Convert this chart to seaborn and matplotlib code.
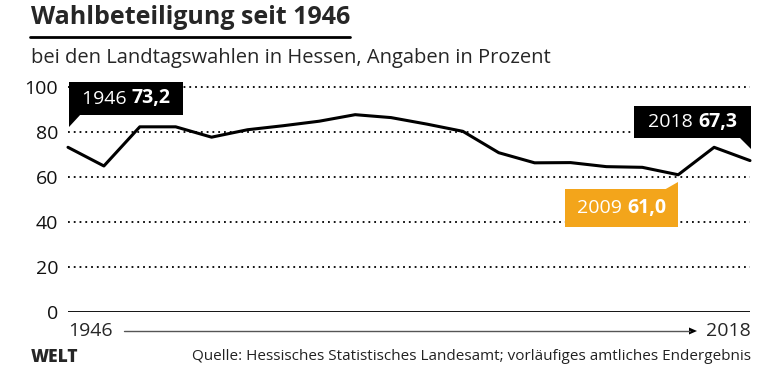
import matplotlib
matplotlib.use("Agg")
import matplotlib.pyplot as plt
import seaborn as sns
import pandas as pd
from matplotlib.patches import Polygon
from matplotlib.offsetbox import TextArea, HPacker, AnnotationBbox

# Wahlbeteiligung bei den Landtagswahlen in Hessen
years = [1946, 1950, 1954, 1958, 1962, 1966, 1970, 1974, 1978, 1982,
         1983, 1987, 1991, 1995, 1999, 2003, 2008, 2009, 2013, 2018]
turnout = [73.2, 64.9, 82.3, 82.3, 77.7, 81.0, 82.8, 84.8, 87.7, 86.4,
           83.5, 80.3, 70.8, 66.3, 66.4, 64.6, 64.3, 61.0, 73.2, 67.3]
y_ticks = [0, 20, 40, 60, 80, 100]

df = pd.DataFrame({"idx": range(len(years)), "year": years, "turnout": turnout})

sns.set_style("white")
plt.rcParams["font.family"] = ["Open Sans", "DejaVu Sans"]

W, H = 780, 373
fig = plt.figure(figsize=(W / 100, H / 100), dpi=100)
ax = fig.add_axes([68 / W, (H - 312) / H, 682 / W, 225 / H])

# gridlines
for t in y_ticks[1:]:
    ax.axhline(t, color="black", lw=1.3, ls=(0, (1, 2.2)), zorder=1, clip_on=False)
ax.axhline(0, color="black", lw=1.3, zorder=1)

sns.lineplot(data=df, x="idx", y="turnout", color="black", lw=2.2, ax=ax, zorder=3,
             clip_on=False)

ax.set_xlim(0, len(years) - 1)
ax.set_ylim(0, 100)
ax.set_xticks([])
ax.set_yticks(y_ticks)
ax.set_yticklabels([str(t) for t in y_ticks], fontsize=14)
ax.tick_params(axis="y", length=0, pad=7, labelcolor="#111111")
ax.set_xlabel("")
ax.set_ylabel("")
for s in ax.spines.values():
    s.set_visible(False)


def px(x, y):
    # figure pixel (from top-left) -> figure fraction
    return (x / W, (H - y) / H)


def callout(box, tail, color, label, value):
    x0, y0, x1, y1 = box
    pts = [px(x0, y0), px(x1, y0), px(x1, y1), px(x0, y1)]
    fig.patches.append(Polygon(pts, closed=True, transform=fig.transFigure,
                               facecolor=color, edgecolor="none", zorder=5))
    fig.patches.append(Polygon([px(*p) for p in tail], closed=True,
                               transform=fig.transFigure, facecolor=color,
                               edgecolor="none", zorder=5))
    t1 = TextArea(label + " ", textprops=dict(color="white", fontsize=14))
    t2 = TextArea(value, textprops=dict(color="white", fontsize=14,
                                        fontweight="bold"))
    pack = HPacker(children=[t1, t2], pad=0, sep=0, align="baseline")
    ab = AnnotationBbox(pack, px((x0 + x1) / 2, (y0 + y1) / 2),
                        xycoords="figure fraction", frameon=False, zorder=6)
    fig.add_artist(ab)


orange = "#f3a51b"
callout((69, 82, 183, 115), [(69, 114), (69, 127), (81, 114)], "black",
        str(years[0]), f"{turnout[0]:.1f}".replace(".", ","))
callout((634, 106, 751, 138), [(739, 137), (751, 149), (751, 137)], "black",
        str(years[-1]), f"{turnout[-1]:.1f}".replace(".", ","))
callout((565, 189, 678, 227), [(664, 190), (678, 182), (678, 190)], orange,
        str(years[17]), f"{turnout[17]:.1f}".replace(".", ","))

# x-axis arrow row
fig.text(*px(68, 331), str(years[0]), fontsize=14, ha="left", va="center")
fig.text(*px(751, 331), str(years[-1]), fontsize=14, ha="right", va="center")
fig.add_artist(plt.Line2D([124 / W, 690 / W], [(H - 331) / H] * 2,
                          transform=fig.transFigure, color="#555555", lw=1))
fig.patches.append(Polygon([px(689, 327.5), px(697, 331), px(689, 334.5)],
                           closed=True, transform=fig.transFigure,
                           facecolor="black", edgecolor="none"))

# title block
fig.text(*px(31, 18), "Wahlbeteiligung seit 1946", fontsize=18, fontweight="bold",
         ha="left", va="center")
fig.add_artist(plt.Line2D([30 / W, 350 / W], [(H - 37) / H] * 2,
                          transform=fig.transFigure, color="black", lw=2))
fig.text(*px(31, 58), "bei den Landtagswahlen in Hessen, Angaben in Prozent",
         fontsize=14.5, ha="left", va="center")

# footer
fig.text(*px(31, 357), "WELT", fontsize=12.5, fontweight="heavy", ha="left",
         va="center")
fig.text(*px(751, 357),
         "Quelle: Hessisches Statistisches Landesamt; vorläufiges amtliches Endergebnis",
         fontsize=11, ha="right", va="center", color="#222222")

fig.savefig("out.png", dpi=100, facecolor="white")
